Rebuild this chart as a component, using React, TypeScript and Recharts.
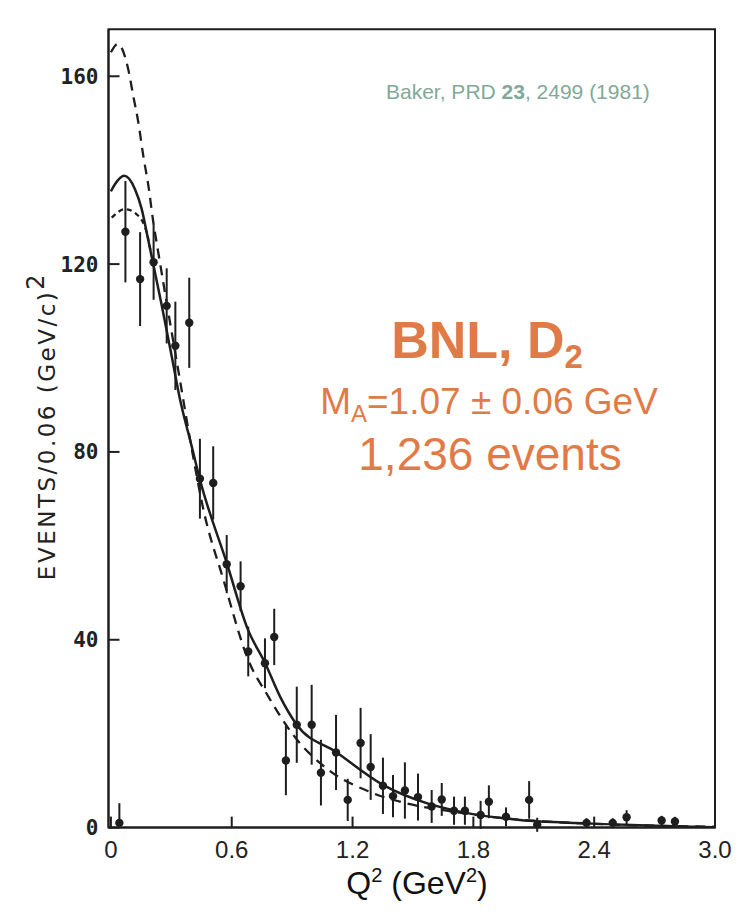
import React from "react";
import { ComposedChart, Line, Scatter, ErrorBar, XAxis, YAxis, ReferenceArea } from "recharts";

// axis ticks
const xTicks = [0, 0.6, 1.2, 1.8, 2.4, 3.0];
const yTicks = [0, 40, 80, 120, 160];
const xDomain = [-0.012, 3.0];
const yDomain = [0, 170];

// measured events per 0.06 GeV^2 bin
const pointQ2 = [
  0.042, 0.072, 0.145, 0.212, 0.277, 0.32, 0.389, 0.442, 0.508, 0.575, 0.644,
  0.682, 0.765, 0.811, 0.869, 0.923, 0.997, 1.043, 1.118, 1.176, 1.24, 1.29,
  1.351, 1.401, 1.46, 1.525, 1.593, 1.643, 1.704, 1.758, 1.836, 1.877, 1.962,
  2.077, 2.117, 2.362, 2.492, 2.561, 2.735, 2.801,
];
const pointEvents = [
  1, 126.9, 116.8, 120.4, 111.1, 102.6, 107.5, 74.3, 73.4, 56.1, 51.4,
  37.5, 35.0, 40.6, 14.3, 21.9, 21.9, 11.7, 16.0, 5.9, 18.0, 12.9,
  8.9, 6.7, 7.9, 6.5, 4.5, 6.0, 3.6, 3.6, 2.7, 5.5, 2.3,
  5.9, 0.6, 1.0, 1.0, 2.2, 1.5, 1.3,
];
const pointErr: (number | number[])[] = [
  [1, 4.2], 10.8, 10, 8, 8, 9.4, 9.6, 8.5, 7.8, 6.2, 5.3,
  5.3, 5.3, 6, 7.4, 8.1, 8.5, 7, 8, 4.5, 7.5, 7,
  6, 4.5, 6, 5, 3.5, 3.5, 3, 3, 3, 3.5, 2,
  4, 1.5, 1, 1, 1.5, 1, 1,
];

// best fit (solid)
const solidQ2 = [0.0, 0.02, 0.067, 0.12, 0.153, 0.178, 0.2, 0.25, 0.3, 0.343, 0.4, 0.442, 0.575, 0.681, 0.765, 0.84, 0.923, 1.118, 1.351, 1.568, 1.733, 2.031, 2.362, 2.99];
const solidEvents = [135.5, 137.0, 138.8, 135.9, 131.7, 126.7, 122.1, 111.7, 100.8, 91.2, 81.4, 74.1, 56.4, 42.1, 35.1, 27.9, 21.9, 16.1, 9.1, 5.2, 3.4, 1.6, 0.9, 0.1];

// long-dashed curve
const dashedQ2 = [0.0, 0.034, 0.086, 0.111, 0.136, 0.161, 0.186, 0.211, 0.227, 0.28, 0.34, 0.4, 0.459, 0.558, 0.682, 0.782, 0.906, 1.071, 1.286, 1.485, 1.7, 2.0, 2.4, 3.0];
const dashedEvents = [165.1, 166.9, 161.5, 155.8, 150.2, 143.0, 136.7, 128.8, 124.6, 111, 96, 81, 67.8, 52.9, 35.7, 27.9, 19.7, 12.6, 7.6, 5.0, 3.4, 1.8, 0.8, 0.2];

// short-dashed curve
const dottedQ2 = [0.004, 0.07, 0.128, 0.178, 0.2];
const dottedEvents = [129.9, 131.7, 130.6, 126.7, 122.1];

const points = pointQ2.map((q2, i) => ({ q2, v: pointEvents[i], err: pointErr[i] }));
const solid = solidQ2.map((q2, i) => ({ q2, v: solidEvents[i] }));
const dashed = dashedQ2.map((q2, i) => ({ q2, v: dashedEvents[i] }));
const dotted = dottedQ2.map((q2, i) => ({ q2, v: dottedEvents[i] }));

const ink = "#1e1e1e";
const orange = "#e07b47";
const teal = "#7fa99a";

function BottomTick(props: any) {
  const { x, y, payload } = props;
  const v = payload.value as number;
  return (
    <g>
      <line x1={x} x2={x} y1={y} y2={y - 11} stroke={ink} strokeWidth={2} />
      <text x={x} y={y + 30} textAnchor="middle" fontSize={24} fontFamily="'Liberation Sans', Arial, sans-serif" fill="#222">
        {v === 0 ? "0" : v.toFixed(1)}
      </text>
    </g>
  );
}

function LeftTick(props: any) {
  const { x, y, payload } = props;
  return (
    <g>
      <line x1={x} x2={x + 11} y1={y} y2={y} stroke={ink} strokeWidth={2} />
      <text x={x - 10} y={y} dy="0.36em" textAnchor="end" fontSize={21} fontWeight="bold" fontFamily="'DejaVu Sans Mono', monospace" fill="#222">
        {payload.value}
      </text>
    </g>
  );
}

function Dot(props: any) {
  const { cx, cy } = props;
  return <circle cx={cx} cy={cy} r={4.2} fill={ink} />;
}

export default function App() {
  const W = 740;
  const H = 898;
  return (
    <div style={{ position: "relative", width: W, height: H, fontFamily: "'Liberation Sans', Arial, sans-serif" }}>
      <ComposedChart width={W} height={H} margin={{ top: 21.3, right: 33, bottom: 0, left: 0 }}>
        <XAxis
          xAxisId="bottom"
          dataKey="q2"
          type="number"
          domain={xDomain}
          allowDataOverflow
          ticks={xTicks}
          interval={0}
          height={78.4}
          tickSize={0}
          tickMargin={0}
          tickLine={false}
          tick={<BottomTick />}
          axisLine={{ stroke: ink, strokeWidth: 2 }}
        />
        <YAxis
          yAxisId="left"
          type="number"
          domain={yDomain}
          allowDataOverflow
          ticks={yTicks}
          interval={0}
          width={100.5}
          tickSize={0}
          tickMargin={0}
          tickLine={false}
          tick={<LeftTick />}
          axisLine={{ stroke: ink, strokeWidth: 2 }}
        />
        {/* plot frame */}
        <ReferenceArea
          xAxisId="bottom"
          yAxisId="left"
          x1={xDomain[0]}
          x2={xDomain[1]}
          y1={yDomain[0]}
          y2={yDomain[1]}
          fill="none"
          fillOpacity={0}
          stroke={ink}
          strokeWidth={2}
          ifOverflow="visible"
        />
        <Line
          xAxisId="bottom"
          yAxisId="left"
          data={dashed}
          dataKey="v"
          type="monotone"
          stroke={ink}
          strokeWidth={2.3}
          strokeDasharray="10 7"
          dot={false}
          isAnimationActive={false}
        />
        <Line
          xAxisId="bottom"
          yAxisId="left"
          data={dotted}
          dataKey="v"
          type="monotone"
          stroke={ink}
          strokeWidth={2.3}
          strokeDasharray="5 4"
          dot={false}
          isAnimationActive={false}
        />
        <Line
          xAxisId="bottom"
          yAxisId="left"
          data={solid}
          dataKey="v"
          type="monotone"
          stroke={ink}
          strokeWidth={2.5}
          dot={false}
          isAnimationActive={false}
        />
        <Scatter
          xAxisId="bottom"
          yAxisId="left"
          data={points}
          dataKey="v"
          shape={<Dot />}
          isAnimationActive={false}
        >
          <ErrorBar dataKey="err" direction="y" width={0} stroke={ink} strokeWidth={2} isAnimationActive={false} />
        </Scatter>
      </ComposedChart>

      <svg
        width={W}
        height={H}
        style={{ position: "absolute", left: 0, top: 0, overflow: "visible", pointerEvents: "none" }}
      >
        <text x={378} y={91} fontSize={21} fill={teal}>
          Baker, PRD <tspan fontWeight="bold">23</tspan>, 2499 (1981)
        </text>
        <text x={479} y={350} textAnchor="middle" fontSize={52} fontWeight="bold" fill={orange}>
          BNL, D<tspan fontSize={33} dy={10}>2</tspan>
        </text>
        <text x={481} y={406} textAnchor="middle" fontSize={37} fill={orange}>
          M<tspan fontSize={24} dy={8}>A</tspan>
          <tspan dy={-8}>=1.07 ± 0.06 GeV</tspan>
        </text>
        <text x={482} y={462} textAnchor="middle" fontSize={46} fill={orange}>
          1,236 events
        </text>
        <text
          transform="translate(47 418) rotate(-90)"
          textAnchor="middle"
          fontSize={23}
          letterSpacing={2.5}
          fill="#222"
          fontFamily="'DejaVu Sans', sans-serif"
        >
          EVENTS/0.06 (GeV/c)<tspan fontSize={24} dy={-11}>2</tspan>
        </text>
        <text x={409} y={886} textAnchor="middle" fontSize={32} fill="#111">
          Q<tspan fontSize={20} dy={-12}>2</tspan>
          <tspan dy={12}> (GeV</tspan>
          <tspan fontSize={20} dy={-12}>2</tspan>
          <tspan dy={12}>)</tspan>
        </text>
      </svg>
    </div>
  );
}
